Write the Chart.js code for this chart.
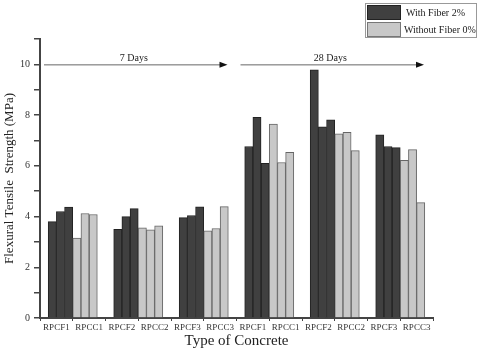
<!DOCTYPE html>
<html>
<head>
<meta charset="utf-8">
<script src="https://cdn.jsdelivr.net/npm/chart.js@4/dist/chart.umd.min.js"></script>
<style>
  html, body { margin: 0; padding: 0; background: #fff; }
  #chart { display: block; }
</style>
</head>
<body>
<canvas id="chart" width="480" height="358"></canvas>
<script>
// Categories along the x axis (each has three specimens)
var categories = ['RPCF1', 'RPCC1', 'RPCF2', 'RPCC2', 'RPCF3', 'RPCC3',
                  'RPCF1', 'RPCC1', 'RPCF2', 'RPCC2', 'RPCF3', 'RPCC3'];

// Flexural tensile strength (MPa), specimen 1..3 per category
var specimen1 = [3.80, 3.15, 3.50, 3.56, 3.96, 3.44, 6.76, 7.65, 9.78, 7.26, 7.22, 6.22];
var specimen2 = [4.20, 4.12, 4.00, 3.48, 4.04, 3.53, 7.91, 6.13, 7.54, 7.32, 6.76, 6.64];
var specimen3 = [4.37, 4.08, 4.31, 3.63, 4.38, 4.39, 6.10, 6.53, 7.81, 6.60, 6.72, 4.55];

var seriesNames = ['With Fiber 2%', 'Without Fiber 0%'];
var periods = ['7 Days', '28 Days'];
var periodRanges = [[0, 5], [6, 11]];
var yTicks = [0, 2, 4, 6, 8, 10];

var DARK = '#404040';
var LIGHT = '#c8c8c8';
var SERIF = '"Liberation Serif", "DejaVu Serif", serif';

var isFiber = categories.map(function(c) { return c.indexOf('RPCF') === 0; });

// Four slots per category: fiber bars use slots 1-3, plain bars slots 0-2,
// so the two trios sit next to each other and groups stay apart.
function slot(n) {
    return categories.map(function(c, i) {
        if (isFiber[i]) {
            return [null, specimen1[i], specimen2[i], specimen3[i]][n];
        }
        return [specimen1[i], specimen2[i], specimen3[i], null][n];
    });
}

var fills = isFiber.map(function(f) { return f ? DARK : LIGHT; });
var borders = isFiber.map(function(f) { return f ? '#222' : '#666'; });

var datasets = [0, 1, 2, 3].map(function(n) {
    return {
        data: slot(n),
        backgroundColor: fills,
        borderColor: borders,
        borderWidth: 1,
        categoryPercentage: 1,
        barPercentage: 1
    };
});

// Draws the period arrows and the boxed legend
var decorations = {
    id: 'decorations',
    afterDatasetsDraw: function(chart) {
        var ctx = chart.ctx;
        var x = chart.scales.x;
        var y = chart.scales.y;
        var half = (x.getPixelForValue(1) - x.getPixelForValue(0)) / 2;
        var ay = y.getPixelForValue(10);

        ctx.save();
        periods.forEach(function(label, i) {
            var x0 = x.getPixelForValue(periodRanges[i][0]) - half + 4;
            var x1 = x.getPixelForValue(periodRanges[i][1]) + half - 9;
            ctx.strokeStyle = '#666';
            ctx.lineWidth = 1;
            ctx.beginPath();
            ctx.moveTo(x0, ay + 0.5);
            ctx.lineTo(x1 - 6, ay + 0.5);
            ctx.stroke();
            ctx.fillStyle = '#111';
            ctx.beginPath();
            ctx.moveTo(x1, ay + 0.5);
            ctx.lineTo(x1 - 8, ay - 2.5);
            ctx.lineTo(x1 - 8, ay + 3.5);
            ctx.closePath();
            ctx.fill();
            ctx.fillStyle = '#222';
            ctx.font = '10px ' + SERIF;
            ctx.textAlign = 'center';
            ctx.textBaseline = 'middle';
            ctx.fillText(label, (x0 + x1) / 2 - 2, ay - 6);
        });

        // legend box
        var lx = 365, ly = 3, lw = 111, lh = 34;
        ctx.strokeStyle = '#999';
        ctx.lineWidth = 1;
        ctx.strokeRect(lx + 0.5, ly + 0.5, lw, lh);
        [DARK, LIGHT].forEach(function(col, i) {
            var sy = ly + 2 + i * 17;
            ctx.fillStyle = col;
            ctx.fillRect(lx + 2, sy, 34, 15);
            ctx.strokeStyle = i === 0 ? '#222' : '#777';
            ctx.strokeRect(lx + 2.5, sy + 0.5, 33, 14);
            ctx.fillStyle = '#222';
            ctx.font = '10px ' + SERIF;
            ctx.textAlign = 'left';
            ctx.textBaseline = 'middle';
            ctx.fillText(seriesNames[i], lx + (i === 0 ? 41 : 39), sy + 8);
        });
        ctx.restore();
    }
};

new Chart(document.getElementById('chart'), {
    type: 'bar',
    data: {
        labels: categories,
        datasets: datasets
    },
    options: {
        responsive: false,
        animation: false,
        devicePixelRatio: 1,
        layout: {
            padding: { left: 0, right: 47, top: 39, bottom: 0 }
        },
        plugins: {
            legend: { display: false },
            tooltip: { enabled: false }
        },
        scales: {
            x: {
                offset: true,
                grid: {
                    offset: true,
                    drawOnChartArea: false,
                    drawTicks: true,
                    tickLength: 3,
                    color: '#444',
                    lineWidth: 1
                },
                border: { color: '#444', width: 2 },
                ticks: {
                    autoSkip: false,
                    maxRotation: 0,
                    padding: 1,
                    color: '#333',
                    font: { family: SERIF, size: 9 }
                },
                title: {
                    display: true,
                    text: 'Type of Concrete',
                    color: '#222',
                    font: { family: SERIF, size: 15 },
                    padding: { top: 0, bottom: 8 }
                },
                afterFit: function(scale) { scale.height = 40; }
            },
            y: {
                min: 0,
                max: 11,
                grid: {
                    drawOnChartArea: false,
                    drawTicks: true,
                    tickLength: 6,
                    color: '#444',
                    lineWidth: 1.5
                },
                border: { color: '#444', width: 2 },
                ticks: {
                    stepSize: 1,
                    padding: 4,
                    color: '#333',
                    font: { family: SERIF, size: 10 },
                    callback: function(v) { return yTicks.indexOf(v) >= 0 ? v : ''; }
                },
                title: {
                    display: true,
                    text: 'Flexural Tensile  Strength (MPa)',
                    color: '#222',
                    font: { family: SERIF, size: 13 },
                    padding: { top: 2, bottom: 0 }
                },
                afterFit: function(scale) { scale.width = 40; }
            }
        }
    },
    plugins: [decorations]
});
</script>
</body>
</html>
